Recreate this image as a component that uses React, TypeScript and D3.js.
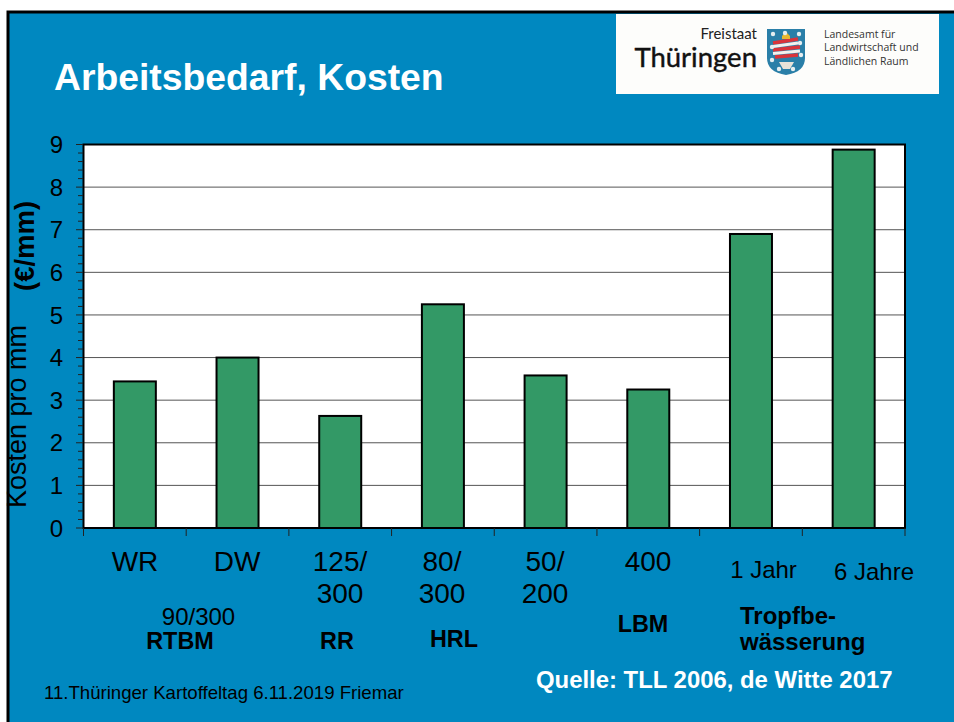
import React from "react";
import * as d3 from "d3";

const categories = ["WR", "DW", "125/300", "80/300", "50/200", "400", "1 Jahr", "6 Jahre"];
const values = [3.44, 4.0, 2.63, 5.25, 3.58, 3.25, 6.9, 8.88];
const yTicks = [0, 1, 2, 3, 4, 5, 6, 7, 8, 9];
const minorTicks = d3.range(0, 9.01, 0.2);
const catLabels: [string, number, number, number][] = [
  ["WR", 135, 571, 28], ["DW", 237, 571, 28], ["125/", 340, 571, 28], ["300", 340, 603, 28],
  ["80/", 442, 571, 28], ["300", 442, 603, 28], ["50/", 545, 571, 28], ["200", 545, 603, 28],
  ["400", 648, 571, 28], ["1 Jahr", 763.5, 578, 24], ["6 Jahre", 874, 580, 24], ["90/300", 198.5, 625, 24],
];
const boldLabels: [string, number, number][] = [
  ["RTBM", 180, 649], ["RR", 337, 649], ["HRL", 454, 647], ["LBM", 643, 632],
];
const shieldDots: [number, number][] = [
  [773, 34], [785, 33], [799, 34], [772, 47], [800, 43], [801, 55], [772, 60], [779, 69], [793, 69],
];

const FONT = "Liberation Sans, Arial, sans-serif";

export default function App() {
  const x = d3.scaleBand<string>().domain(categories).range([83.5, 905]);
  const y = d3.scaleLinear().domain([0, 9]).range([528, 144.5]);
  const barW = 42;
  return (
    <svg width={954} height={722} style={{ position: "absolute", left: 0, top: 0, fontFamily: FONT }}>
      <rect width={954} height={722} fill="#ffffff" />
      <rect x={8} y={12} width={946} height={710} fill="#0088c0" />
      <path d="M8 722V12H954" fill="none" stroke="#000" strokeWidth={3} />
      <rect x={616} y={14} width={323} height={80} fill="#fdfdfb" />
      <text x={757} y={39} fontSize={15} textAnchor="end" fill="#222" fontFamily="Lato">Freistaat</text>
      <text x={757} y={67} fontSize={27.5} textAnchor="end" fill="#111" fontFamily="Lato" stroke="#111" strokeWidth={0.4}>Thüringen</text>
      <path d="M767 29H805V58Q805 72 786 75Q767 72 767 58Z" fill="#2a7fa8" />
      <path d="M773 43L798 39M773 50L800 47M775 57L798 55" stroke="#d9343a" strokeWidth={3.5} />
      <path d="M773 46.5L798 43M773 53.5L800 51" stroke="#f4f0ec" strokeWidth={3} />
      <path d="M779 62H794L790 69H783Z" fill="#e8e2d8" />
      <path d="M782 36L786 32L790 36V39H782Z" fill="#e8b830" />
      {shieldDots.map(([cx, cy], i) => (
        <circle key={i} cx={cx} cy={cy} r={2.2} fill="#e6eef0" />
      ))}
      <text fontSize={10.5} fill="#333" fontFamily="Open Sans">
        <tspan x={824} y={38}>Landesamt für</tspan>
        <tspan x={824} y={51}>Landwirtschaft und</tspan>
        <tspan x={824} y={65}>Ländlichen Raum</tspan>
      </text>
      <text x={54} y={90} fontSize={37.3} fontWeight={700} fill="#fff">Arbeitsbedarf, Kosten</text>

      <rect x={83.5} y={144.5} width={821.5} height={383.5} fill="#fff" />
      {yTicks.slice(1, -1).map((t) => (
        <line key={t} x1={83.5} x2={905} y1={y(t)} y2={y(t)} stroke="#555" strokeWidth={1} />
      ))}
      {categories.map((c, i) => (
        <rect
          key={c}
          x={x(c)! + x.bandwidth() / 2 - barW / 2}
          y={y(values[i])}
          width={barW}
          height={y(0) - y(values[i])}
          fill="#339966"
          stroke="#000"
          strokeWidth={2}
        />
      ))}
      <rect x={83.5} y={144.5} width={821.5} height={383.5} fill="none" stroke="#000" strokeWidth={2} />
      {minorTicks.map((t, i) => (
        <line key={i} x1={i % 5 === 0 ? 76 : 78} x2={83} y1={y(t)} y2={y(t)} stroke="#222" strokeWidth={1} />
      ))}
      {categories.map((c) => (
        <line key={c} x1={x(c)!} x2={x(c)!} y1={528} y2={536} stroke="#222" strokeWidth={1} />
      ))}
      <line x1={905} x2={905} y1={528} y2={536} stroke="#222" strokeWidth={1} />
      {yTicks.map((t) => (
        <text key={t} x={63} y={y(t)} dy="0.36em" fontSize={24} textAnchor="end" fill="#000">{t}</text>
      ))}
      <text transform="translate(26,508) rotate(-90)" fontSize={27} fill="#000">Kosten pro mm</text>
      <text transform="translate(33.5,291) rotate(-90)" fontSize={27.5} fontWeight={700} fill="#000">(€/mm)</text>
      {catLabels.map(([t, lx, ly, s], i) => (
        <text key={i} x={lx} y={ly} fontSize={s} textAnchor="middle" fill="#000">{t}</text>
      ))}
      {boldLabels.map(([t, lx, ly], i) => (
        <text key={i} x={lx} y={ly} fontSize={23.4} fontWeight={700} textAnchor="middle" fill="#000">{t}</text>
      ))}
      <text x={740} y={624} fontSize={24} fontWeight={700} fill="#000">Tropfbe-</text>
      <text x={740} y={650} fontSize={24} fontWeight={700} fill="#000">wässerung</text>
      <text x={536} y={688} fontSize={23.9} fontWeight={700} fill="#fff">Quelle: TLL 2006, de Witte 2017</text>
      <text x={44} y={699} fontSize={18.6} fill="#000">11.Thüringer Kartoffeltag 6.11.2019 Friemar</text>
    </svg>
  );
}
